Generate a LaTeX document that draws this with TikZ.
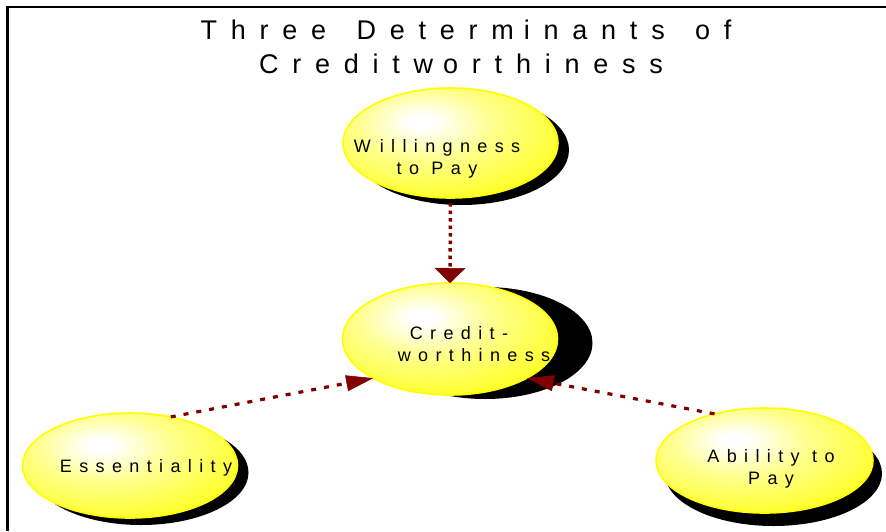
\documentclass[tikz,border=0pt]{standalone}
\usepackage{fontspec}
\setmainfont{Liberation Sans}
\newfontfamily\titlefont[LetterSpace=51]{Liberation Sans}
\newfontfamily\bubblefont[LetterSpace=41]{Liberation Sans}
\usetikzlibrary{shapes.geometric,shadows,arrows.meta}
\definecolor{arrowred}{RGB}{128,0,0}
\definecolor{ballyellow}{RGB}{255,255,0}
\pgfdeclareradialshading{yelball}{\pgfpoint{-7bp}{10bp}}{color(0bp)=(white); color(3bp)=(white); color(16bp)=(ballyellow!45!white); color(32bp)=(ballyellow!82!white); color(46bp)=(ballyellow); color(100bp)=(ballyellow)}
\tikzset{
  bubble/.style={ellipse, minimum width=215pt, minimum height=110pt, inner sep=0pt, outer sep=0pt,
    shade, shading=yelball, draw=ballyellow, line width=1.6pt},
  shadowoff/.style 2 args={drop shadow={shadow xshift=#1, shadow yshift=#2, fill=black, opacity=1}},
  lbl/.style={align=center, inner sep=0pt, text=black, font=\bubblefont\fontsize{18}{22}\selectfont},
  titletext/.style={align=center, inner sep=0pt, text=black, font=\titlefont\fontsize{27}{34}\selectfont},
  connV/.style={draw=arrowred, line width=3.5pt, dash pattern=on 3.5pt off 4pt,
    -{Triangle[length=15pt,width=31pt,line width=0.5pt]}},
  connD/.style={draw=arrowred, line width=3.2pt, dash pattern=on 5pt off 8pt,
    -{Triangle[length=27pt,width=16pt,line width=0.5pt]}},
  frame/.style={draw=black, line width=2.2pt}
}
\begin{document}
\begin{tikzpicture}[x=1pt,y=-1pt]
\useasboundingbox (0,0) rectangle (886,531);
\draw[frame] (7.5,531) -- (7.5,7) -- (886,7);
\node[titletext] (title) at (466,47) {Three\kern9pt{} Determ\kern10pt inants\kern9pt{} of\\Creditw\kern10pt orthiness\kern10pt};
\node[bubble, shadowoff={11pt}{-7pt}] (will) at (450.5,143) {};
\node[bubble, minimum height=112pt, shadowoff={35pt}{-4pt}] (credit) at (450,339) {};
\node[bubble, minimum height=105pt, shadowoff={11pt}{-7pt}] (ess) at (130,465.5) {};
\node[bubble, minimum width=217pt, minimum height=105pt, shadowoff={9pt}{-13pt}] (abil) at (764.5,460.5) {};
\node[lbl] (willT) at (437,159) {W\kern9pt illingness\\to Pay};
\node[lbl] (creditT) at (474,344) {Credit-\kern30pt\\worthiness};
\node[lbl] (essT) at (146,468) {Essentiality};
\node[lbl] (abilT) at (771,469) {Ability to\\Pay};
\draw[connV] ([yshift=-5pt]will.south) -- (credit.north);
\draw[connD] (ess.50) -- (credit.207);
\draw[connD] (abil.137) -- (credit.333);
\end{tikzpicture}
\end{document}
